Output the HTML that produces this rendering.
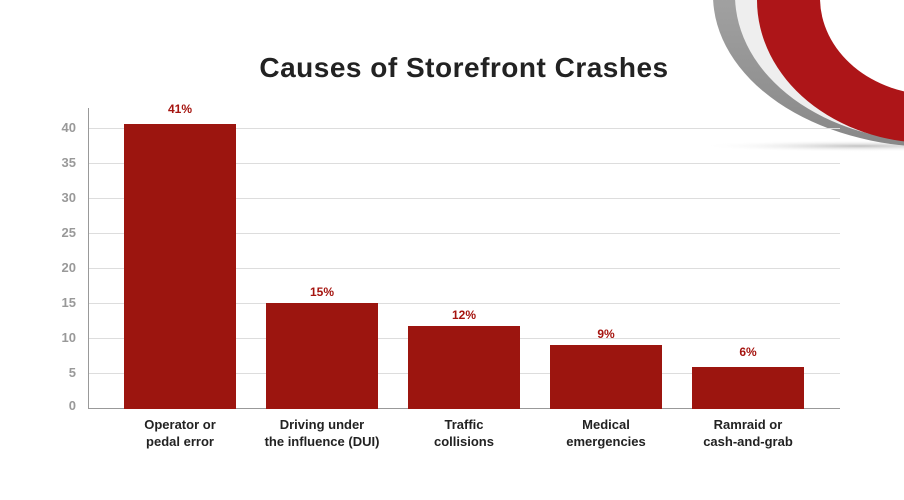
<!DOCTYPE html>
<html><head><meta charset="utf-8"><style>
body{margin:0;background:#fff;width:904px;height:500px;overflow:hidden;font-family:"Liberation Sans",sans-serif}
</style></head><body>
<svg width="904" height="500" xmlns="http://www.w3.org/2000/svg" style="position:absolute;left:0;top:0">
<defs>
<linearGradient id="g" x1="0" y1="0" x2="0" y2="1"><stop offset="0" stop-color="#bbb"/><stop offset="1" stop-color="#888"/></linearGradient>
<radialGradient id="sh" cx="0.5" cy="0.5" r="0.5"><stop offset="0" stop-color="#999" stop-opacity="0.6"/><stop offset="1" stop-color="#fff" stop-opacity="0"/></radialGradient>
<clipPath id="c"><rect x="0" y="0" width="904" height="500"/></clipPath>
</defs>
<ellipse cx="860" cy="146" rx="160" ry="6" fill="url(#sh)"/>
<g clip-path="url(#c)">
<ellipse cx="935" cy="-5" rx="222" ry="152" fill="url(#g)"/>
<ellipse cx="935" cy="-5" rx="200" ry="147" fill="#eee"/>
<ellipse cx="930" cy="0" rx="173" ry="143" fill="#ad1518"/>
<ellipse cx="935" cy="-2" rx="115" ry="97" fill="#fff"/>
</g>
<g stroke="#ddd" stroke-width="1">
<line x1="88" y1="128.5" x2="840" y2="128.5"/><line x1="88" y1="163.5" x2="840" y2="163.5"/>
<line x1="88" y1="198.5" x2="840" y2="198.5"/><line x1="88" y1="233.5" x2="840" y2="233.5"/>
<line x1="88" y1="268.5" x2="840" y2="268.5"/><line x1="88" y1="303.5" x2="840" y2="303.5"/>
<line x1="88" y1="338.5" x2="840" y2="338.5"/><line x1="88" y1="373.5" x2="840" y2="373.5"/>
</g>
<line x1="88.5" y1="108" x2="88.5" y2="409" stroke="#999"/>
<line x1="88" y1="408.5" x2="840" y2="408.5" stroke="#999"/>
<g fill="#9c150f">
<rect x="124" y="124" width="112" height="285"/>
<rect x="266" y="303" width="112" height="106"/>
<rect x="408" y="326" width="112" height="83"/>
<rect x="550" y="345" width="112" height="64"/>
<rect x="692" y="367" width="112" height="42"/>
</g>
<g fill="#999" font-size="13" font-weight="bold" text-anchor="end">
<text x="76" y="132">40</text><text x="76" y="167">35</text><text x="76" y="202">30</text><text x="76" y="237">25</text>
<text x="76" y="272">20</text><text x="76" y="307">15</text><text x="76" y="342">10</text><text x="76" y="377">5</text><text x="76" y="410">0</text>
</g>
<g fill="#a5140f" font-size="12" font-weight="bold" text-anchor="middle">
<text x="180" y="113">41%</text><text x="322" y="296">15%</text><text x="464" y="319">12%</text><text x="606" y="338">9%</text><text x="748" y="356">6%</text>
</g>
<g fill="#222" font-size="13" font-weight="bold" text-anchor="middle">
<text x="180" y="429">Operator or</text><text x="180" y="446">pedal error</text>
<text x="322" y="429">Driving under</text><text x="322" y="446">the influence (DUI)</text>
<text x="464" y="429">Traffic</text><text x="464" y="446">collisions</text>
<text x="606" y="429">Medical</text><text x="606" y="446">emergencies</text>
<text x="748" y="429">Ramraid or</text><text x="748" y="446">cash-and-grab</text>
</g>
<text x="464" y="77" text-anchor="middle" font-size="28" font-weight="bold" fill="#222" letter-spacing="0.5">Causes of Storefront Crashes</text>
</svg>
</body></html>
